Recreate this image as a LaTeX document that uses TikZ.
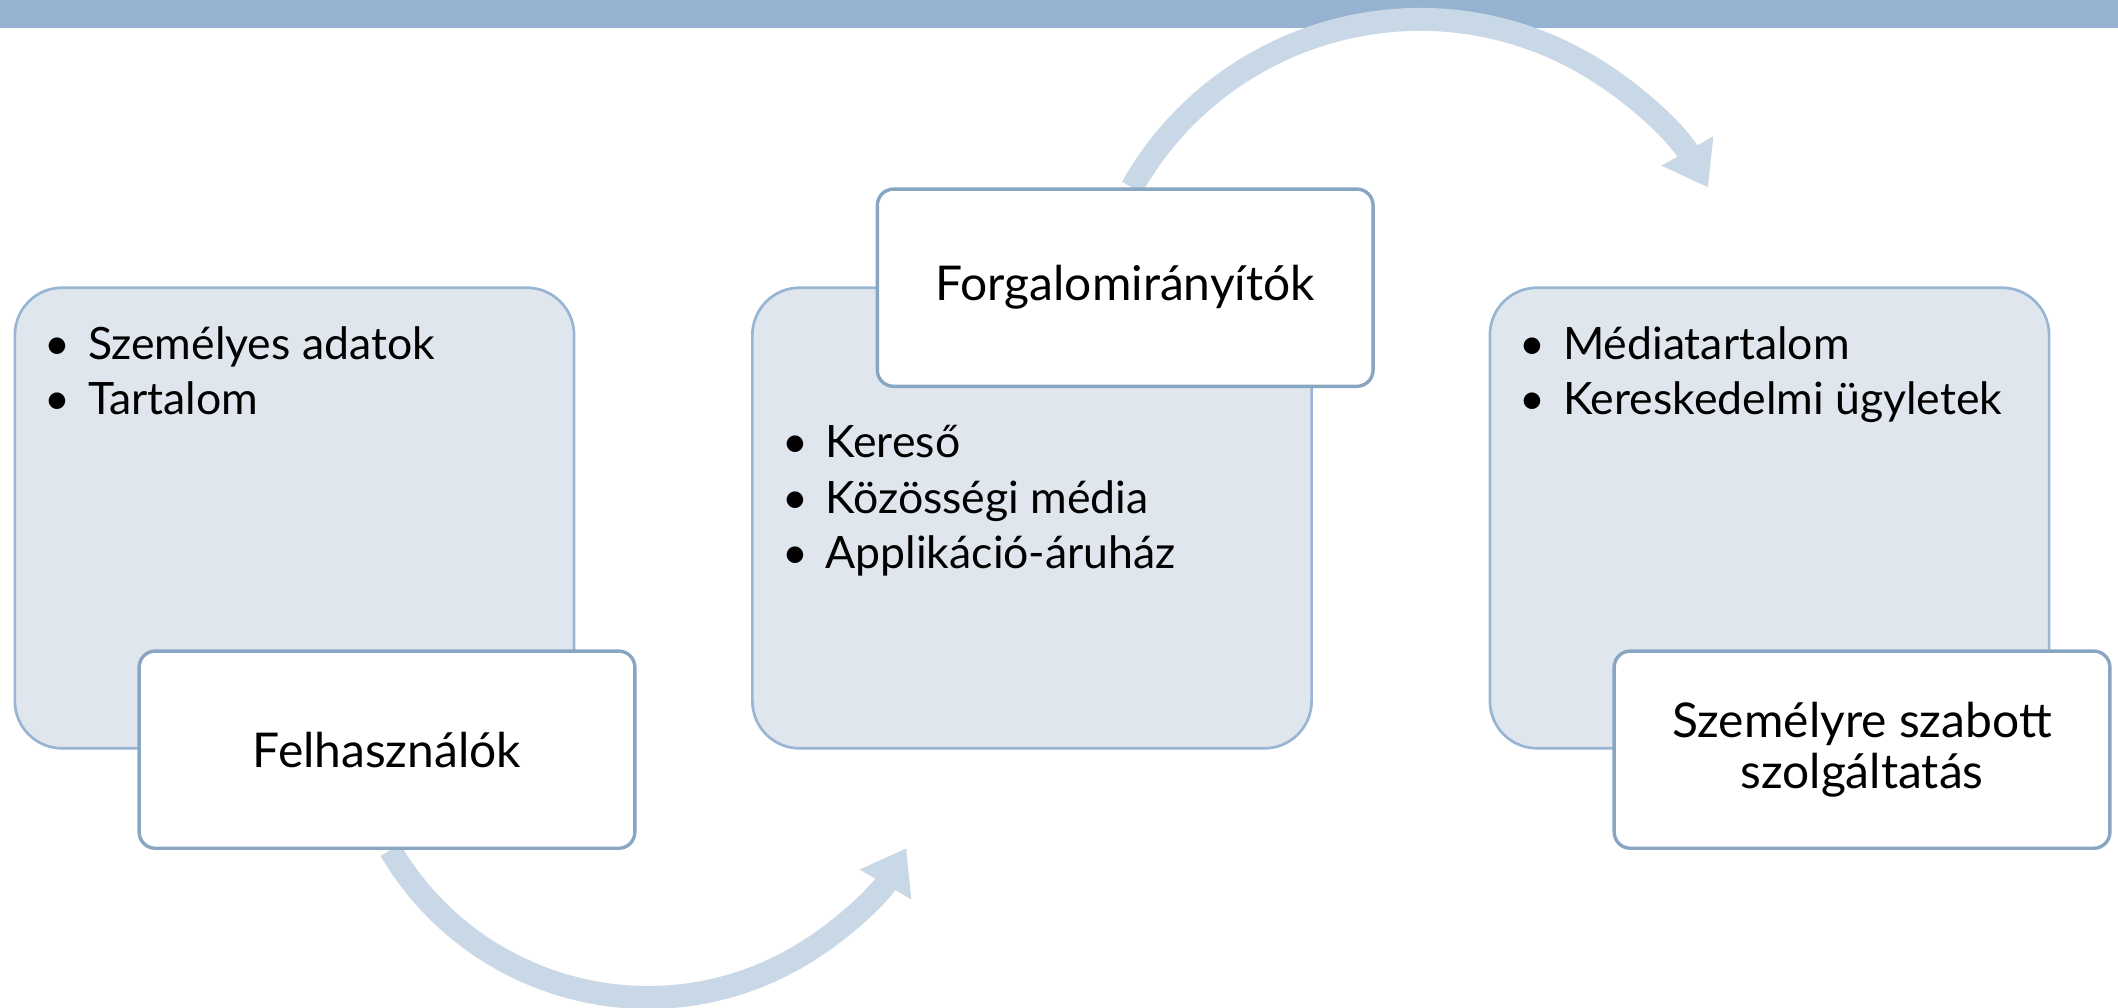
\documentclass[tikz,border=0pt]{standalone}
\usepackage{fontspec}
\setmainfont{Lato}
\usetikzlibrary{arrows.meta}
\usetikzlibrary{positioning}
\usetikzlibrary{backgrounds}
\definecolor{barblue}{HTML}{95B3D1}
\definecolor{flowblue}{HTML}{C8D8E6}
\definecolor{panelfill}{HTML}{DFE6EE}
\definecolor{panelline}{HTML}{98B6D3}
\definecolor{tagline}{HTML}{88A5C2}
\tikzset{
	panel/.style={draw=panelline, fill=panelfill, line width=2pt, rounded corners=35pt,
		minimum width=414pt, minimum height=341pt},
	tag/.style={draw=tagline, fill=white, line width=2.5pt, rounded corners=12pt,
		minimum width=367pt, minimum height=146pt, align=center,
		font=\fontsize{35.5}{38}\selectfont},
	item/.style={anchor=base west, inner sep=0pt, font=\fontsize{33}{40}\selectfont},
	flow/.style={draw=flowblue, line width=17pt, -{Triangle[width=42pt,length=31pt]}},
}
\newcommand{\dotitem}[1]{\llap{\textbullet\hspace{13pt}}#1}

\begin{document}
\begin{tikzpicture}[x=1pt, y=-1pt]
	\useasboundingbox (0,0) rectangle (1568,746);
	% three panels
	\node[panel] (users) at (218,383.5) {};
	\node[panel] (hubs) at (764,383.5) {};
	\node[panel] (services) at (1310,383.5) {};
		\node[item] (ua) at (65,266) {\dotitem{Személyes adatok}};
		\node[item] (ub) at (65,307) {\dotitem{Tartalom}};
		\node[item] (ha) at (611,339) {\dotitem{Kereső}};
		\node[item] (hb) at (611,380) {\dotitem{Közösségi média}};
		\node[item] (hc) at (611,421) {\dotitem{Applikáció-áruház}};
		\node[item] (sa) at (1157,266) {\dotitem{Médiatartalom}};
		\node[item] (sb) at (1157,307) {\dotitem{Kereskedelmi ügyletek}};
	% titles
	\node[tag] (userstag) at (286.5,555) {Felhasználók};
	\node[tag] (hubstag) at (833,213) {Forgalomirányítók};
	\node[tag] (servicestag) at (1378.5,555) {Személyre szabott\\szolgáltatás};
	\coordinate (flowa) at ([xshift=2.5pt]userstag.south);
	\coordinate (flowb) at ([xshift=5pt]hubstag.north);
	\begin{pgfonlayer}{background}
		\fill[barblue] (0,0) rectangle (1568,20.5);
		\draw[flow] (flowa) arc[start angle=149.6, end angle=30, radius=221];
		\draw[flow] (flowb) arc[start angle=209.5, end angle=330.5, radius=245];
	\end{pgfonlayer}
\end{tikzpicture}
\end{document}
